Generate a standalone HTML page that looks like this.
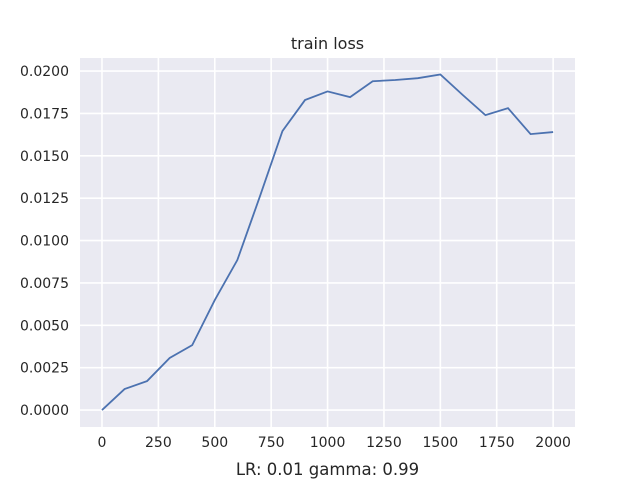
<!DOCTYPE html>
<html><head><meta charset="utf-8"><style>
body{margin:0;background:#fff;font-family:"DejaVu Sans","Liberation Sans",sans-serif}
</style></head><body>
<svg id="chart" width="640" height="480" xmlns="http://www.w3.org/2000/svg" font-family="DejaVu Sans, Liberation Sans, sans-serif"></svg>
<script>
const xs=[0,100,200,300,400,500,600,700,800,900,1000,1100,1200,1300,1400,1500,1600,1700,1800,1900,2000];
const losses=[0,0.00124,0.00171,0.00307,0.00383,0.00649,0.00885,0.0126,0.01646,0.01829,0.0188,0.01846,0.0194,0.01947,0.01958,0.0198,0.01858,0.0174,0.01781,0.01628,0.0164];
const xTicks=[0,250,500,750,1000,1250,1500,1750,2000];
const yTicks=[0,0.0025,0.005,0.0075,0.01,0.0125,0.015,0.0175,0.02];
const L=80,R=575,T=58,B=427,x0=-97.5,x1=2097,y0=-0.001,y1=0.02077;
const X=v=>L+(v-x0)/(x1-x0)*(R-L);
const Y=v=>B-(v-y0)/(y1-y0)*(B-T);
const svg=document.getElementById('chart');
const NS='http://www.w3.org/2000/svg';
function mk(tag,attrs,parent){const e=document.createElementNS(NS,tag);for(const k in attrs)e.setAttribute(k,attrs[k]);(parent||svg).appendChild(e);return e;}
let bg=mk('rect',{x:L,y:T,width:R-L,height:B-T,fill:'#eaeaf2'});


xTicks.forEach(t=>{
 let g=mk('line',{x1:X(t),x2:X(t),y1:T,y2:B,stroke:'#fff','stroke-width':1.6});
 
 
 let tx=mk('text',{x:X(t),y:B+20,'text-anchor':'middle','font-size':14,fill:'#262626'});
 tx.textContent=t;
 
 
});
yTicks.forEach(t=>{
 let g=mk('line',{x1:L,x2:R,y1:Y(t),y2:Y(t),stroke:'#fff','stroke-width':1.6});
 
 
 let tx=mk('text',{x:L-11,y:Y(t)+5,'text-anchor':'end','font-size':14,fill:'#262626'});
 tx.textContent=t.toFixed(4);
 
 
});
let line=mk('polyline',{points:xs.map((v,i)=>X(v)+','+Y(losses[i])).join(' '),fill:'none',stroke:'#4c72b0','stroke-width':1.8});


let title=mk('text',{x:(L+R)/2,y:49,'text-anchor':'middle','font-size':16,fill:'#262626'});
title.textContent='train loss';


let xl=mk('text',{x:(L+R)/2,y:475,'text-anchor':'middle','font-size':16.5,fill:'#262626'});
xl.textContent='LR: 0.01 gamma: 0.99';


</script>
</body></html>
